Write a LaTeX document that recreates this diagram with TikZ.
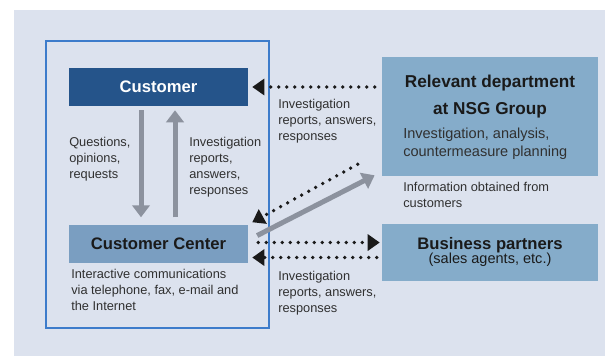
\documentclass[tikz,border=0pt]{standalone}
\usepackage{fontspec}
\setmainfont{Liberation Sans}
\usetikzlibrary{arrows.meta,positioning}
\definecolor{pagebg}{HTML}{DCE2EE}
\definecolor{frameblue}{HTML}{3D7CCB}
\definecolor{darkblue}{HTML}{25548A}
\definecolor{midblue}{HTML}{7A9EC1}
\definecolor{paleblue}{HTML}{85ACCA}
\definecolor{arrowgray}{HTML}{8C929E}
\definecolor{textgray}{HTML}{303030}
\definecolor{dotblack}{HTML}{1A1A1A}

\begin{document}
\begin{tikzpicture}[
  x=0.75pt, y=-0.75pt,
  party/.style={rectangle, inner sep=0pt, minimum width=134.25pt, minimum height=28.5pt,
                font=\fontsize{12.5}{14}\selectfont\bfseries},
  outside/.style={rectangle, fill=paleblue, inner sep=0pt, minimum width=162pt},
  note/.style={align=left, inner sep=0pt, anchor=north west, text=textgray,
               font=\fontsize{9.6}{12}\selectfont},
  flow/.style={line width=3.75pt, draw=arrowgray, -{Triangle[length=9pt, width=13pt]}},
  dotflow/.style={line width=2.8pt, draw=dotblack, line cap=round, dash pattern=on 0pt off 6pt,
                  -{Triangle[length=9pt, width=12pt]}}
]
  \useasboundingbox (0,0) rectangle (605,356);
  \fill[pagebg] (14,10) rectangle (605,356);
  \draw[frameblue, line width=0.9pt] (46,41) rectangle (269,328);

  \node[party, fill=darkblue, text=white] (customer) at (158.5,87) {Customer};
  \node[party, fill=midblue, text=dotblack, below=88.5pt of customer] (center) {Customer Center};

  \node[outside, minimum height=89.25pt] (dept) at (490,116.5) {};
  \node[align=center, text=dotblack, font=\fontsize{12.9}{20}\selectfont\bfseries] (deptname)
    at (490,96.5) {Relevant department\\at NSG Group};
  \node[anchor=west, align=left, inner sep=0pt, text=textgray, font=\fontsize{10.9}{13.5}\selectfont]
    (deptwork) at (403,144) {Investigation, analysis,\\countermeasure planning};

  \node[outside, minimum height=42.75pt, align=center, text=dotblack, below=35.25pt of dept] (partners)
    {{\fontsize{12.5}{13}\selectfont\bfseries Business partners}\\[-1pt]
     {\fontsize{10.9}{11}\selectfont (sales agents, etc.)}};

  \node[note] (asktext) at (69,137) {Questions,\\opinions,\\requests};
  \node[note] (replytext) at (189,137) {Investigation\\reports,\\answers,\\responses};
  \node[note] (deptreply) at (278,99) {Investigation\\reports, answers,\\responses};
  \node[note] (infotext) at (403,182) {Information obtained from\\customers};
  \node[note] (partreply) at (278,271) {Investigation\\reports, answers,\\responses};
  \node[note] (channels) at (71,269) {Interactive communications\\via telephone, fax, e-mail and\\the Internet};

  \draw[flow] ([shift={(-17.5,4)}]customer.south) -- ([shift={(-17.5,-7)}]center.north);
  \draw[flow] ([shift={(16.5,-7)}]center.north) -- ([shift={(16.5,4)}]customer.south);
  \draw[flow, shorten <=7.5pt, shorten >=6pt]
    ([shift={(0,-3.4)}]center.east) -- ([shift={(0,-4.6)}]dept.south west);

  \draw[dotflow] ([shift={(-7,0)}]dept.west |- customer.east) -- ([shift={(4,0)}]customer.east);
  \draw[dotflow] ([shift={(-24,-12)}]dept.south west) -- ([shift={(4,-2)}]center.north east);
  \draw[dotflow] ([shift={(10,-1)}]center.east) -- ([shift={(-2,-1)}]partners.west |- center.east);
  \draw[dotflow] ([shift={(-5,14)}]partners.west |- center.east) -- ([shift={(4,14)}]center.east);
\end{tikzpicture}
\end{document}
